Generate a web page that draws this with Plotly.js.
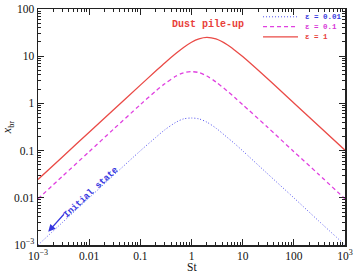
<!DOCTYPE html>
<html>
<head>
<meta charset="utf-8">
<script src="https://cdn.plot.ly/plotly-3.0.1.min.js"></script>
<style>
  html, body { margin: 0; padding: 0; background: #fff; }
  #chart { width: 354px; height: 275px; }
</style>
</head>
<body>
<div id="chart"></div>
<script>
// Stokes number samples
const stokes = [0.001, 0.003, 0.01, 0.03, 0.1, 0.2, 0.3, 0.5, 0.7, 1, 1.4, 2, 3, 5, 7, 10, 30, 100, 300, 1000];

// x_br for each dust-to-gas ratio
const xbrEps001 = [0.001, 0.003, 0.01, 0.03, 0.099, 0.19, 0.275, 0.40, 0.47, 0.49, 0.47, 0.40, 0.30, 0.19, 0.14, 0.099, 0.033, 0.01, 0.0033, 0.001];
const xbrEps01  = [0.0095, 0.0285, 0.095, 0.285, 0.94, 1.83, 2.6, 3.8, 4.45, 4.7, 4.5, 3.8, 2.85, 1.83, 1.33, 0.94, 0.32, 0.095, 0.032, 0.0095];
const xbrEps1   = [0.0245, 0.0735, 0.245, 0.735, 2.44, 4.85, 7.2, 11.5, 15.3, 19.8, 23.3, 25.0, 23.2, 17.5, 13.4, 9.8, 3.4, 1.02, 0.34, 0.102];

const seriesNames = ['\u03b5 = 0.01', '\u03b5 = 0.1', '\u03b5 = 1'];

// Axis ticks
const xTickVals = [0.001, 0.01, 0.1, 1, 10, 100, 1000];
const xTickText = ['10<sup>\u22123</sup>', '0.01', '0.1', '1', '10', '100', '10<sup>3</sup>'];
const yTickVals = [0.001, 0.01, 0.1, 1, 10, 100];
const yTickText = ['10<sup>\u22123</sup>', '0.01', '0.1', '1', '10', '100'];

const colBlue = '#5050f0';
const colMag = '#e040e0';
const colRed = '#ea4a46';

function minorTicks(lo, hi) {
  const out = [];
  for (let e = lo; e < hi; e++) {
    for (let m = 2; m <= 9; m++) out.push(m * Math.pow(10, e));
  }
  return out;
}

const traces = [
  { x: stokes, y: xbrEps001, name: seriesNames[0], mode: 'lines',
    line: { color: colBlue, width: 1, dash: '1px,2px', shape: 'spline', smoothing: 0.8 } },
  { x: stokes, y: xbrEps01, name: seriesNames[1], mode: 'lines',
    line: { color: colMag, width: 1.3, dash: '4px,3px', shape: 'spline', smoothing: 0.8 } },
  { x: stokes, y: xbrEps1, name: seriesNames[2], mode: 'lines',
    line: { color: colRed, width: 1.3, shape: 'spline', smoothing: 0.8 } }
];

const serif = 'Liberation Serif, Times New Roman, serif';
const mono = 'Liberation Mono, DejaVu Sans Mono, monospace';

const axisCommon = {
  type: 'log',
  showgrid: false,
  zeroline: false,
  showline: true,
  linecolor: '#222',
  linewidth: 1.5,
  mirror: 'ticks',
  ticks: 'inside',
  ticklen: 6,
  tickwidth: 1,
  tickcolor: '#222',
  tickmode: 'array',
  tickfont: { family: serif, size: 11.5, color: '#111' },
  minor: { ticks: 'inside', ticklen: 3, tickwidth: 1, tickcolor: '#222', showgrid: false }
};

// Legend drawn as short sample lines with coloured labels
const legendRows = [
  { y: 0.967, color: colBlue, dash: '1px,2px', width: 1, text: '#3a3ae0' },
  { y: 0.925, color: colMag, dash: '4px,3px', width: 1.3, text: '#d838d8' },
  { y: 0.882, color: colRed, dash: 'solid', width: 1.3, text: '#e8403a' }
];

const shapes = legendRows.map(r => ({
  type: 'line', xref: 'paper', yref: 'paper',
  x0: 0.733, x1: 0.847, y0: r.y, y1: r.y,
  line: { color: r.color, width: r.width, dash: r.dash }
}));

const annotations = legendRows.map((r, i) => ({
  xref: 'paper', yref: 'paper', x: 0.862, y: r.y,
  xanchor: 'left', yanchor: 'middle', showarrow: false,
  text: '<b>' + seriesNames[i] + '</b>',
  font: { family: mono, size: 7.5, color: r.text }
}));

annotations.push({
  xref: 'x', yref: 'y', x: 0.32, y: 1.68, showarrow: false,
  text: '<b>Dust pile-up</b>',
  font: { family: mono, size: 10, color: '#e8403a' }
});

annotations.push({
  xref: 'x', yref: 'y', x: -1.97, y: -1.90, showarrow: false,
  textangle: -42.7,
  text: '<b>Initial state</b>',
  font: { family: mono, size: 9, color: '#3636e0' }
});

annotations.push({
  xref: 'x', yref: 'y', x: -2.80, y: -2.72,
  ax: 17, ay: -19, text: '', showarrow: true,
  arrowhead: 2, arrowsize: 1.1, arrowwidth: 1.3, arrowcolor: '#3636e0'
});

// x-axis title placed just under the tick labels
annotations.push({
  xref: 'paper', yref: 'paper', x: 0.5, y: 0, yshift: -22,
  xanchor: 'center', yanchor: 'middle', showarrow: false,
  text: 'St', font: { family: serif, size: 11.5, color: '#111' }
});

const layout = {
  width: 354, height: 275,
  margin: { l: 38, r: 9, t: 9, b: 30 },
  paper_bgcolor: '#fff', plot_bgcolor: '#fff',
  showlegend: false,
  xaxis: Object.assign({}, axisCommon, {
    range: [-3, 3],
    tickvals: xTickVals, ticktext: xTickText,
    minor: Object.assign({}, axisCommon.minor, { tickmode: 'array', tickvals: minorTicks(-3, 3) }),
    automargin: false
  }),
  yaxis: Object.assign({}, axisCommon, {
    range: [-3, 2],
    tickvals: yTickVals, ticktext: yTickText,
    minor: Object.assign({}, axisCommon.minor, { tickmode: 'array', tickvals: minorTicks(-3, 2) }),
    title: { text: '<i>x</i><sub>br</sub>', font: { family: serif, size: 12, color: '#111' }, standoff: 2 },
    automargin: false
  }),
  shapes: shapes,
  annotations: annotations
};

Plotly.newPlot('chart', traces, layout, { displayModeBar: false, staticPlot: true });
</script>
</body>
</html>
